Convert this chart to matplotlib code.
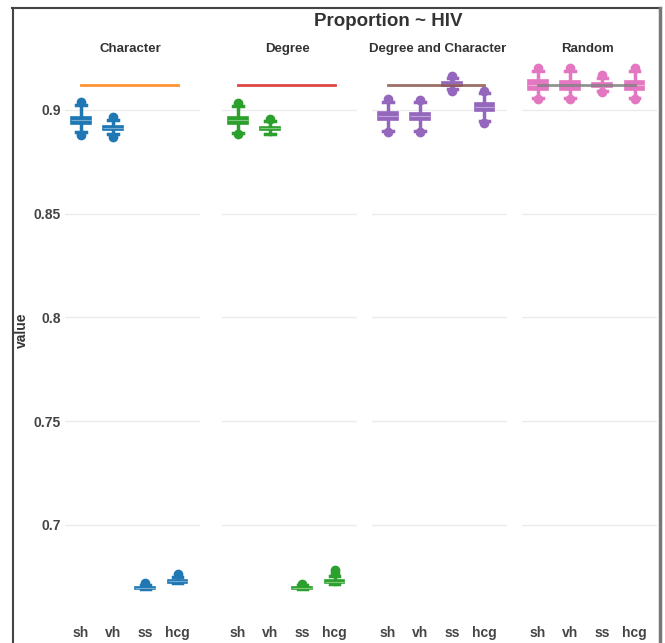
import matplotlib
matplotlib.use("Agg")
import matplotlib.pyplot as plt
from matplotlib.lines import Line2D

plt.rcParams['font.family'] = ['Liberation Sans', 'DejaVu Sans']
plt.rcParams['font.weight'] = 'bold'

categories = ["sh", "vh", "ss", "hcg"]
models = ["Character", "Degree", "Degree and Character", "Random"]
box_colors = ["#1f77b4", "#2ca02c", "#9467bd", "#e377c2"]
ref_colors = ["#ff7f0e", "#d62728", "#8c564b", "#7f7f7f"]
hiv_prop = 0.912

# per model, per category: (q1, median, q3, whisker low, whisker high)
character_stats = [
    (0.8934, 0.8952, 0.8968, 0.8892, 0.9022),
    (0.8903, 0.8913, 0.8923, 0.8882, 0.8950),
    (0.6692, 0.6695, 0.6698, 0.6690, 0.6710),
    (0.6721, 0.6727, 0.6733, 0.6717, 0.6750),
]
degree_stats = [
    (0.8932, 0.8950, 0.8966, 0.8890, 0.9018),
    (0.8902, 0.8911, 0.8920, 0.8885, 0.8945),
    (0.6692, 0.6695, 0.6698, 0.6690, 0.6708),
    (0.6720, 0.6726, 0.6732, 0.6716, 0.6752),
]
degchar_stats = [
    (0.8950, 0.8970, 0.8988, 0.8900, 0.9040),
    (0.8951, 0.8970, 0.8987, 0.8900, 0.9038),
    (0.9116, 0.9126, 0.9134, 0.9100, 0.9155),
    (0.8994, 0.9014, 0.9032, 0.8945, 0.9080),
]
random_stats = [
    (0.9097, 0.9121, 0.9143, 0.9060, 0.9190),
    (0.9098, 0.9121, 0.9142, 0.9060, 0.9190),
    (0.9111, 0.9120, 0.9130, 0.9093, 0.9155),
    (0.9097, 0.9120, 0.9142, 0.9060, 0.9190),
]
character_fliers = [[0.9038, 0.8878], [0.8964, 0.8872], [0.6718], [0.6762]]
degree_fliers = [[0.9034, 0.8883], [0.8955], [0.6716], [0.6766, 0.6780]]
degchar_fliers = [[0.9052, 0.8892], [0.9050, 0.8892], [0.9165, 0.9093], [0.9092, 0.8938]]
random_fliers = [[0.9203, 0.9052], [0.9203, 0.9052], [0.9167, 0.9087], [0.9203, 0.9052]]

all_stats = [character_stats, degree_stats, degchar_stats, random_stats]
all_fliers = [character_fliers, degree_fliers, degchar_fliers, random_fliers]
yticks = [0.7, 0.75, 0.8, 0.85, 0.9]

W, H = 665, 643
fig = plt.figure(figsize=(W / 100, H / 100), dpi=100)

ax_top, ax_bot = 62, 618
lefts = [65, 222, 372, 522]
width = 135

for i, model in enumerate(models):
    ax = fig.add_axes([lefts[i] / W, 1 - ax_bot / H, width / W, (ax_bot - ax_top) / H])
    stats = []
    for j, cat in enumerate(categories):
        q1, med, q3, lo, hi = all_stats[i][j]
        stats.append(dict(q1=q1, med=med, q3=q3, whislo=lo, whishi=hi,
                          fliers=all_fliers[i][j], label=cat))
    c = box_colors[i]
    ax.bxp(stats, positions=range(4), widths=0.62, patch_artist=True,
           boxprops=dict(facecolor=c, edgecolor=c, linewidth=1.2),
           medianprops=dict(color="white", linewidth=0.8, alpha=0.4),
           whiskerprops=dict(color=c, linewidth=2.5),
           capprops=dict(color=c, linewidth=2.5),
           capwidths=0.3,
           flierprops=dict(marker="o", markerfacecolor=c, markeredgecolor=c,
                           markersize=6))
    ax.plot([0, 3], [hiv_prop, hiv_prop], color=ref_colors[i], linewidth=2,
            zorder=5, alpha=0.85)

    ax.set_xlim(-0.5, 3.7)
    ax.set_ylim(0.65506, 0.92314)
    ax.set_yticks(yticks)
    ax.grid(axis="y", color="#ebebeb", linewidth=1)
    ax.set_axisbelow(True)
    for s in ax.spines.values():
        s.set_visible(False)
    ax.tick_params(length=0, labelsize=10, colors="#444444", pad=3)
    ax.set_xticks(range(4))
    ax.set_xticklabels(categories, fontweight="bold")
    ax.tick_params(axis="x", pad=6)
    if i == 0:
        ax.set_yticklabels([f"{v:g}" for v in yticks], fontweight="bold")
    else:
        ax.set_yticklabels([])
    fig.text((lefts[i] + width / 2 - 2) / W, 1 - 49 / H, model, ha="center",
             va="center", fontsize=9.5, fontweight="bold", color="#333333")

fig.text(388 / W, 1 - 21 / H, "Proportion ~ HIV", ha="center", va="center",
         fontsize=13.5, fontweight="bold", color="#333333")
fig.text(22 / W, 1 - 330 / H, "value", rotation=90, ha="center", va="center",
         fontsize=10, fontweight="bold", color="#333333")

# outer frame
fig.add_artist(Line2D([12.5 / W, 12.5 / W], [0, 1 - 7.5 / H], color="#444444", linewidth=1.5))
fig.add_artist(Line2D([12 / W, 659 / W], [1 - 7.5 / H, 1 - 7.5 / H], color="#444444", linewidth=1.5))
fig.add_artist(Line2D([659.5 / W, 659.5 / W], [0, 1 - 7.5 / H], color="#777777", linewidth=2.5))

fig.savefig("out.png", dpi=100)
